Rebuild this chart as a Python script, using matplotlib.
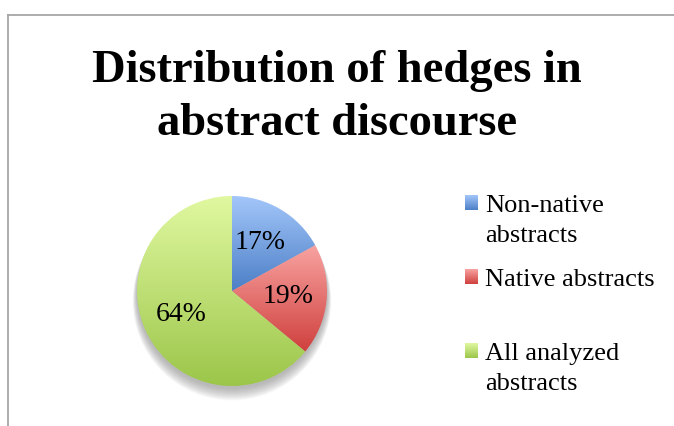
import numpy as np
import matplotlib
matplotlib.use("Agg")
import matplotlib.pyplot as plt
from matplotlib.colors import LinearSegmentedColormap
from matplotlib.patches import Circle
from matplotlib.lines import Line2D

W, H = 674, 426

title_lines = ["Distribution of hedges in", "abstract discourse"]
categories = ["Non-native\nabstracts", "Native abstracts", "All analyzed\nabstracts"]
shares = [17, 19, 64]
# (light top, dark bottom) for each slice
grad_colors = [("#a3c6fa", "#4c7fc6"), ("#f8a3a1", "#cf403d"), ("#e0f8a0", "#9cc64a")]

SERIF = ["Liberation Serif", "DejaVu Serif"]


def px(x, y):
    # pixel coords (top-left origin) -> figure fraction
    return x / W, 1 - y / H


fig = plt.figure(figsize=(W / 100, H / 100), dpi=100)
fig.patch.set_facecolor("white")

# chart frame lines (top and left)
fig.add_artist(Line2D([8 / W, 1], [1 - 15 / H] * 2, color="#a6a6a6", lw=1.3))
fig.add_artist(Line2D([8 / W] * 2, [0, 1 - 15 / H], color="#a6a6a6", lw=1.3))

# title
for i, line in enumerate(title_lines):
    x, y = px(337, 82 + i * 53)
    fig.text(x, y, line, ha="center", va="baseline", fontsize=33.5,
             fontweight="bold", family=SERIF)

# pie
cx, cy, r = 232, 291, 95
ax = fig.add_axes([(cx - r) / W, (H - cy - r) / H, 2 * r / W, 2 * r / H])
wedges, texts, autotexts = ax.pie(
    shares, startangle=90, counterclock=False, radius=1,
    autopct="%1.0f%%", pctdistance=0.59,
    textprops=dict(fontsize=20, family=SERIF, color="black"))
ax.axis("off")

# soft shadow under the pie
for k in range(12):
    ax.add_patch(Circle((0, -0.03 - k * 0.007), 1.0 + k * 0.004, color="gray",
                        alpha=0.06, zorder=0, clip_on=False, lw=0))

grad = np.linspace(0, 1, 256).reshape(-1, 1)
for w, (c1, c2) in zip(wedges, grad_colors):
    cmap = LinearSegmentedColormap.from_list("g", [c1, c2])
    ext = w.get_path().get_extents()
    w.set_facecolor("none")
    w.set_edgecolor("none")
    im = ax.imshow(grad, cmap=cmap, aspect="auto", origin="upper",
                   extent=[ext.x0, ext.x1, ext.y0, ext.y1], zorder=1)
    im.set_clip_path(w)
for t in autotexts:
    t.set_zorder(3)
ax.set_xlim(-1, 1)
ax.set_ylim(-1, 1)

# legend
for i, (lab, (c1, c2)) in enumerate(zip(categories, grad_colors)):
    base = 212 + i * 74
    sx, sy = px(465, base - 2)
    lax = fig.add_axes([sx, sy, 13 / W, 15 / H])
    lax.imshow(grad, cmap=LinearSegmentedColormap.from_list("l", [c1, c2]),
               aspect="auto")
    lax.axis("off")
    for j, line in enumerate(lab.split("\n")):
        x, y = px(485, base + j * 30)
        fig.text(x, y, line, ha="left", va="baseline", fontsize=19, family=SERIF)

fig.savefig("out.png", dpi=100)
